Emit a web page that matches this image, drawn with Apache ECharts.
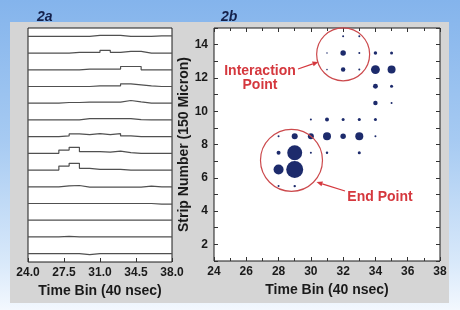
<!DOCTYPE html>
<html>
<head>
<meta charset="utf-8">
<script src="https://cdn.jsdelivr.net/npm/echarts@6/dist/echarts.min.js"></script>
<style>
  html, body { margin: 0; padding: 0; }
  #wrap {
    position: relative; width: 460px; height: 310px; overflow: hidden;
    background: linear-gradient(180deg, #84b4ec 0%, #a6caf2 45%, #d9e9fa 85%, #f3f8fe 100%);
  }
  #panel { position: absolute; left: 10px; top: 22px; width: 439px; height: 281px; background: #d5d5d5; }
  #chart { position: absolute; left: 0; top: 0; width: 460px; height: 310px; }
</style>
</head>
<body>
<div id="wrap">
  <div id="panel"></div>
  <div id="chart"></div>
</div>
<script>
// time bins (start of each 40 nsec bin) for the raw traces
const binStarts = [24, 25, 26, 27, 28, 29, 30, 31, 32, 33, 34, 35, 36, 37]
const binEnd = 38
// strip centres, top trace first
const strips = [14.5, 13.5, 12.5, 11.5, 10.5, 9.5, 8.5, 7.5, 6.5, 5.5, 4.5, 3.5, 2.5, 1.5]
// pulse height of each strip in each bin (arbitrary units)
const pulses = [
  [0, 0, 0, 0, 0, 0, 1, 1, 1, 0, 0, 0, 0.5, 0.5],
  [0, 0, 0, 0, 0.7, 0.7, 0.7, 2.7, 0.7, 1.7, 1.7, 0, 0, 0],
  [0, 0, 0, 0, 0, 0.7, 0.7, 0.7, 0.7, 3.3, 3.3, 0, 0, 0],
  [0, 0, 0, 0, 0, 0, 0.7, 0.7, 0.7, 2.7, 1.7, 0.7, 0, 0],
  [0, 0, 0, 0.7, 0.7, 1, 1, 1, 1, 2.7, 1.3, 0, 0, 0],
  [0, 0, 0, 0, 0, 1.3, 1.3, 1.3, 1.3, 1.3, 0.3, 0, 0, 0],
  [0, 0, 0, 0.7, 2.7, 2, 3, 2, 3, 0.7, 0, 0, 0, 0],
  [0, 0, 0, 3.3, 6, 1.7, 1.7, 1.3, 2.3, 0.7, 0, 0, 0, 0],
  [0, 0, 0, 4, 6.7, 1.7, 0.7, 0.7, 0.7, 0, 0, 0, 0, 0],
  [0, 0, 0, 1, 1.3, -0.3, -0.3, -0.3, -0.3, -0.3, -0.3, 0.7, 0, 0],
  [0, 0, 0, 0, 0, 0, 0, 0, 0, 0, 0, 0, -0.7, -0.7],
  [0, 0, 0, 0, 0, 0, 0, 0, 0, 0, 0, 0, 0, 0],
  [0, 0, 0, 0.5, 0, 0, 0, 0, 0, 0, 0, 0, 0, 0],
  [0, 0, 0, 0, 0, -1, 0, 0, 0, 0, 0, 0, 0, 0]
]
const pulseGain = 0.06 // strip units per pulse unit

// hits: [time bin, strip, charge]
const hits = [
  [32, 14.5, 1], [33, 14.5, 1],
  [31, 13.5, 0.6], [32, 13.5, 7.5], [33, 13.5, 1], [34, 13.5, 3], [35, 13.5, 2.3],
  [31, 12.5, 0.6], [32, 12.5, 5], [33, 12.5, 1], [34, 12.5, 20], [35, 12.5, 16],
  [34, 11.5, 6], [35, 11.5, 2.3],
  [34, 10.5, 5], [35, 10.5, 1],
  [30, 9.5, 1], [31, 9.5, 4], [32, 9.5, 2.3], [33, 9.5, 2.3], [34, 9.5, 2.3],
  [28, 8.5, 1], [29, 8.5, 9], [30, 8.5, 9], [31, 8.5, 16], [32, 8.5, 7.5], [33, 8.5, 16], [34, 8.5, 1],
  [28, 7.5, 4], [29, 7.5, 56], [30, 7.5, 1], [31, 7.5, 1.5], [33, 7.5, 2.3],
  [28, 6.5, 25], [29, 6.5, 72],
  [28, 5.5, 1], [29, 5.5, 1.5]
]
// annotation rings (data coords)
const interactionRing = [32, 13.42]
const endRing = [28.8, 7.05]

const FONT = 'Liberation Sans, Arial, Helvetica, sans-serif'
const RED = '#d5383e'
const INK = '#1a1a1a'

const chart = echarts.init(document.getElementById('chart'), null, { renderer: 'canvas' })

const traceSeries = strips.map((s, i) => {
  const pts = binStarts.map((t, j) => [t, s + pulses[i][j] * pulseGain])
  pts.push([binEnd, s + pulses[i][pulses[i].length - 1] * pulseGain])
  return {
    type: 'line',
    xAxisIndex: 0,
    yAxisIndex: 0,
    step: 'end',
    symbol: 'none',
    silent: true,
    lineStyle: { color: '#505050', width: 1.2 },
    data: pts
  }
})

const axisLabelStyle = { fontSize: 12, fontWeight: 'bold', color: INK, fontFamily: FONT }
const nameStyle = { fontSize: 14, fontWeight: 'bold', color: INK, fontFamily: FONT }

// arrow = shaft + head
function arrow(x1, y1, x2, y2) {
  const dx = x2 - x1, dy = y2 - y1
  const len = Math.sqrt(dx * dx + dy * dy)
  const ux = dx / len, uy = dy / len
  const bx = x2 - ux * 6, by = y2 - uy * 6
  const px = -uy * 2.5, py = ux * 2.5
  return [
    { type: 'line', shape: { x1: x1, y1: y1, x2: bx, y2: by }, style: { stroke: RED, lineWidth: 1.3 } },
    { type: 'polygon', shape: { points: [[x2, y2], [bx + px, by + py], [bx - px, by - py]] }, style: { fill: RED } }
  ]
}

const option = {
  animation: false,
  backgroundColor: 'transparent',
  title: [
    { text: '2a', left: 32, top: 5, textStyle: { fontSize: 14, fontStyle: 'italic', fontWeight: 'bold', color: '#14204a', fontFamily: FONT } },
    { text: '2b', left: 216, top: 5, textStyle: { fontSize: 14, fontStyle: 'italic', fontWeight: 'bold', color: '#14204a', fontFamily: FONT } }
  ],
  grid: [
    { left: 28, top: 28, width: 144, height: 234, show: true, backgroundColor: '#fff', borderColor: INK, borderWidth: 1 },
    { left: 214, top: 28, width: 226, height: 233, show: true, backgroundColor: '#fff', borderColor: INK, borderWidth: 1 }
  ],
  xAxis: [
    {
      gridIndex: 0, type: 'value', min: 24, max: 38, interval: 3.5,
      axisLine: { show: false },
      axisTick: { inside: true, length: 4, lineStyle: { color: '#333' } },
      splitLine: { show: false },
      axisLabel: Object.assign({ margin: 5, formatter: v => v.toFixed(1) }, axisLabelStyle),
      name: 'Time Bin (40 nsec)', nameLocation: 'middle', nameGap: 21, nameTextStyle: nameStyle
    },
    {
      gridIndex: 1, type: 'value', min: 24, max: 38, interval: 2,
      axisLine: { show: false },
      axisTick: { inside: true, length: 4, lineStyle: { color: '#333' } },
      minorTick: { show: true, splitNumber: 2, length: 3, lineStyle: { color: '#333' } },
      splitLine: { show: false },
      axisLabel: Object.assign({ margin: 5 }, axisLabelStyle),
      name: 'Time Bin (40 nsec)', nameLocation: 'middle', nameGap: 21, nameTextStyle: nameStyle
    },
    {
      gridIndex: 1, type: 'value', position: 'top', min: 24, max: 38, interval: 2,
      axisLine: { show: false },
      axisTick: { inside: true, length: 4, lineStyle: { color: '#333' } },
      minorTick: { show: true, splitNumber: 2, length: 3, lineStyle: { color: '#333' } },
      splitLine: { show: false },
      axisLabel: { show: false }
    }
  ],
  yAxis: [
    { gridIndex: 0, type: 'value', min: 1, max: 15, show: false },
    {
      gridIndex: 1, type: 'value', min: 1, max: 15, interval: 1,
      axisLine: { show: false },
      axisTick: { inside: true, length: 4, lineStyle: { color: '#333' } },
      splitLine: { show: false },
      axisLabel: Object.assign({ margin: 6, formatter: v => (v % 2 === 0 ? String(v) : '') }, axisLabelStyle),
      name: 'Strip Number (150 Micron)', nameLocation: 'middle', nameGap: 17, nameTextStyle: nameStyle
    },
    {
      gridIndex: 1, type: 'value', position: 'right', min: 1, max: 15, interval: 1,
      axisLine: { show: false },
      axisTick: { inside: true, length: 4, lineStyle: { color: '#333' } },
      splitLine: { show: false },
      axisLabel: { show: false }
    }
  ],
  series: traceSeries.concat([
    {
      type: 'scatter',
      xAxisIndex: 1,
      yAxisIndex: 1,
      silent: true,
      data: hits,
      symbolSize: d => 2 * Math.sqrt(d[2]),
      itemStyle: { color: '#1d2b6c', opacity: 1 }
    },
    {
      type: 'scatter',
      xAxisIndex: 1,
      yAxisIndex: 1,
      silent: true,
      data: [
        { value: interactionRing, symbolSize: 53 },
        { value: endRing, symbolSize: 62 }
      ],
      itemStyle: { color: 'rgba(0,0,0,0)', borderColor: '#cc4a4d', borderWidth: 1.2, opacity: 1 }
    }
  ]),
  graphic: [
    { type: 'text', style: { text: 'Interaction\nPoint', x: 260, y: 78, align: 'center', verticalAlign: 'middle', lineHeight: 14, font: 'bold 14px ' + FONT, fill: RED } },
    { type: 'text', style: { text: 'End Point', x: 380, y: 197, align: 'center', verticalAlign: 'middle', font: 'bold 14px ' + FONT, fill: RED } }
  ].concat(arrow(298, 69, 318.5, 62)).concat(arrow(345, 191, 316.5, 182))
}

chart.setOption(option)
</script>
</body>
</html>
